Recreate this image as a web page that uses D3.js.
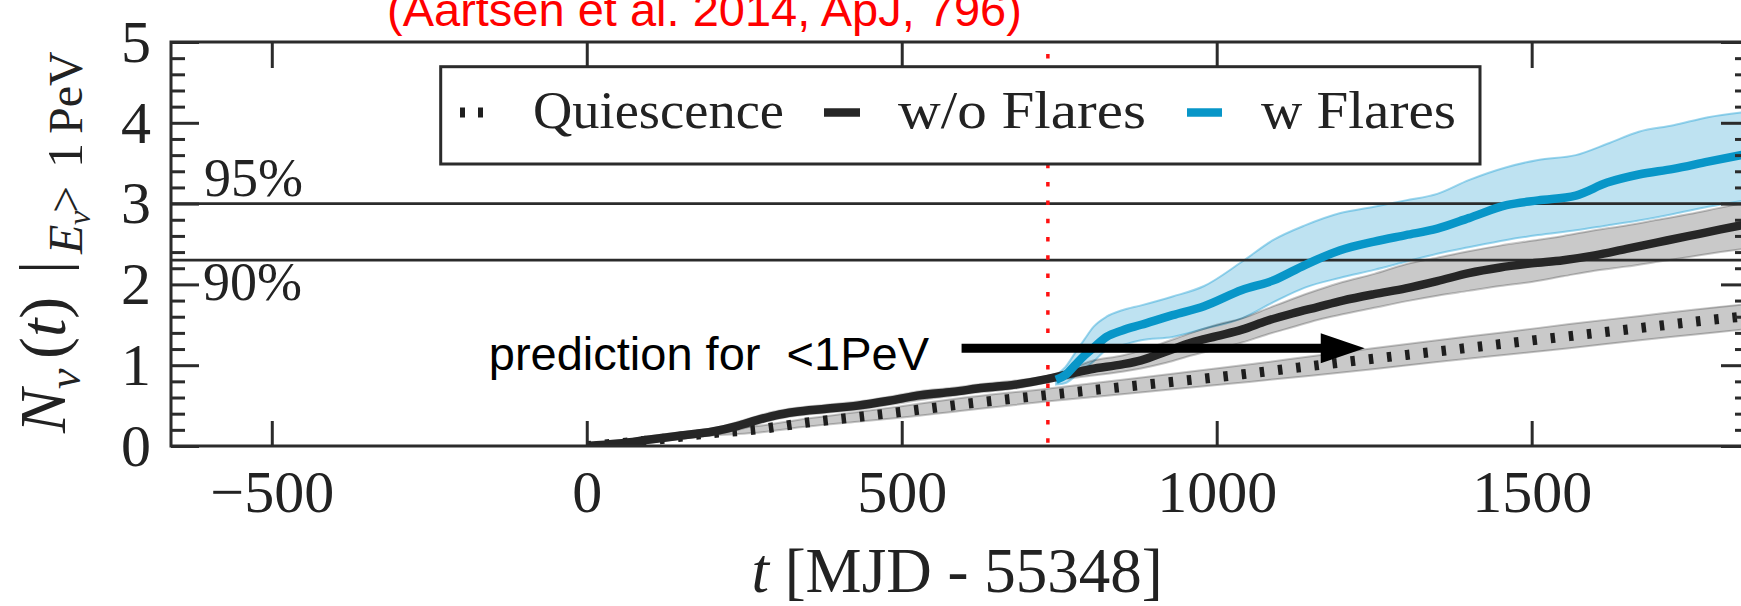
<!DOCTYPE html>
<html>
<head>
<meta charset="utf-8">
<script src="https://cdn.jsdelivr.net/npm/d3@7"></script>
<style>
  html, body { margin: 0; padding: 0; background: #fff; }
  svg { display: block; }
  .serif { font-family: "Liberation Serif", "Times New Roman", serif; }
  .sans  { font-family: "Liberation Sans", Arial, sans-serif; }
</style>
</head>
<body>
<svg id="chart" width="1741" height="606"></svg>
<script>
// ---- data -------------------------------------------------------------
// cumulative expected neutrino counts above 1 PeV versus time (days since MJD 55348)

// quiescent emission only
const quietT  = [0, 100, 200, 264, 350, 430, 497, 600, 730, 850, 1021, 1150, 1248, 1350, 1460, 1560, 1672, 1760, 1845];
const quietV  = [0, 0.07, 0.16, 0.20, 0.29, 0.36, 0.42, 0.52, 0.63, 0.73, 0.87, 0.99, 1.08, 1.17, 1.27, 1.36, 1.46, 1.54, 1.61];
const quietLo = [0, 0.05, 0.13, 0.16, 0.24, 0.30, 0.35, 0.44, 0.55, 0.64, 0.77, 0.87, 0.95, 1.04, 1.13, 1.21, 1.31, 1.38, 1.45];
const quietHi = [0, 0.09, 0.19, 0.24, 0.34, 0.42, 0.49, 0.60, 0.71, 0.82, 0.98, 1.11, 1.21, 1.31, 1.41, 1.51, 1.61, 1.69, 1.76];

// without flares
const noFlareT  = [0, 50, 100, 150, 200, 240, 270, 300, 330, 380, 430, 480, 530, 580, 630, 680, 732,
                   760, 800, 850, 880, 920, 960, 1000, 1040, 1080, 1120, 1160, 1200, 1250, 1300, 1350,
                   1400, 1450, 1500, 1550, 1600, 1650, 1700, 1750, 1800, 1845];
const noFlareV  = [0, 0.03, 0.08, 0.13, 0.18, 0.25, 0.32, 0.38, 0.42, 0.46, 0.50, 0.56, 0.63, 0.67, 0.72, 0.76, 0.83,
                   0.88, 0.95, 1.01, 1.06, 1.17, 1.28, 1.36, 1.44, 1.55, 1.64, 1.72, 1.80, 1.88, 1.95, 2.04,
                   2.14, 2.21, 2.26, 2.30, 2.36, 2.44, 2.52, 2.60, 2.68, 2.75];
const noFlareLo = [0, 0.00, 0.04, 0.09, 0.14, 0.20, 0.27, 0.33, 0.37, 0.41, 0.45, 0.51, 0.57, 0.62, 0.67, 0.71, 0.79,
                   0.83, 0.87, 0.92, 0.96, 1.03, 1.12, 1.20, 1.28, 1.38, 1.47, 1.56, 1.63, 1.71, 1.79, 1.86,
                   1.92, 1.98, 2.03, 2.10, 2.17, 2.22, 2.28, 2.34, 2.40, 2.45];
const noFlareHi = [0, 0.06, 0.12, 0.17, 0.22, 0.30, 0.37, 0.43, 0.47, 0.51, 0.55, 0.61, 0.68, 0.72, 0.77, 0.81, 0.87,
                   0.93, 1.05, 1.12, 1.18, 1.29, 1.40, 1.50, 1.58, 1.70, 1.82, 1.93, 2.03, 2.13, 2.25, 2.33,
                   2.41, 2.48, 2.54, 2.60, 2.67, 2.73, 2.80, 2.87, 2.95, 3.02];

// with flares
const flareT  = [745, 760, 775, 790, 805, 825, 850, 880, 930, 980, 1040, 1090, 1140, 1195, 1250, 1300,
                 1350, 1400, 1460, 1510, 1570, 1620, 1670, 1725, 1780, 1845];
const flareV  = [0.82, 0.88, 1.00, 1.12, 1.22, 1.35, 1.43, 1.50, 1.62, 1.73, 1.93, 2.05, 2.24, 2.42, 2.53, 2.61,
                 2.69, 2.82, 2.98, 3.04, 3.10, 3.26, 3.36, 3.43, 3.52, 3.62];
const flareLo = [0.76, 0.78, 0.86, 0.95, 1.05, 1.19, 1.25, 1.31, 1.35, 1.45, 1.58, 1.78, 1.96, 2.08, 2.18, 2.28,
                 2.38, 2.46, 2.55, 2.61, 2.67, 2.73, 2.79, 2.87, 2.96, 3.05];
const flareHi = [0.88, 0.98, 1.15, 1.32, 1.48, 1.60, 1.68, 1.74, 1.85, 1.98, 2.28, 2.55, 2.73, 2.88, 2.96, 3.04,
                 3.12, 3.29, 3.45, 3.54, 3.60, 3.74, 3.89, 3.97, 4.07, 4.14];

// upper limits and markers
const limitValues = [3.0, 2.3];
const limitLabels = ["95%", "90%"];
const splitTime = 732;                       // red dotted divider
const arrowFrom = [595, 1.21], arrowTo = [1235, 1.21];

// axes
const xDomain = [-660, 1845];
const yDomain = [0, 5];
const xTickValues = [-500, 0, 500, 1000, 1500];
const yTickValues = [0, 1, 2, 3, 4, 5];
const legendLabels = ["Quiescence", "w/o Flares", "w Flares"];

// ---- drawing ----------------------------------------------------------
const svg = d3.select("#chart");
const pL = 171, pR = 1749, pT = 42, pB = 446;
const x = d3.scaleLinear().domain(xDomain).range([pL, pR]);
const y = d3.scaleLinear().domain(yDomain).range([pB, pT]);
const ink = "#2b2b2b";
const blue = "#0896c8";

svg.append("rect").attr("width", 1741).attr("height", 606).attr("fill", "#fff");

svg.append("clipPath").attr("id", "plotclip")
  .append("rect").attr("x", pL).attr("y", pT).attr("width", pR - pL).attr("height", pB - pT);

const plot = svg.append("g").attr("clip-path", "url(#plotclip)");

const zip = (t, a, b, c) => t.map((d, i) => ({t: d, v: a[i], lo: b[i], hi: c[i]}));
const quiet = zip(quietT, quietV, quietLo, quietHi);
const noFlare = zip(noFlareT, noFlareV, noFlareLo, noFlareHi);
const flare = zip(flareT, flareV, flareLo, flareHi);

const band = d3.area().x(d => x(d.t)).y0(d => y(d.lo)).y1(d => y(d.hi)).curve(d3.curveMonotoneX);
const line = d3.line().x(d => x(d.t)).y(d => y(d.v)).curve(d3.curveMonotoneX);

// uncertainty bands
plot.append("path").datum(flare).attr("d", band)
  .attr("fill", "rgba(40,160,210,0.30)").attr("stroke", "rgba(40,165,215,0.45)").attr("stroke-width", 2);
plot.append("path").datum(noFlare).attr("d", band)
  .attr("fill", "rgba(0,0,0,0.21)").attr("stroke", "rgba(0,0,0,0.22)").attr("stroke-width", 2);
plot.append("path").datum(quiet).attr("d", band)
  .attr("fill", "rgba(0,0,0,0.21)").attr("stroke", "rgba(0,0,0,0.22)").attr("stroke-width", 2);

// 90% / 95% limit lines
plot.selectAll(".limit").data(limitValues).enter().append("line")
  .attr("x1", pL).attr("x2", pR)
  .attr("y1", d => y(d)).attr("y2", d => y(d))
  .attr("stroke", ink).attr("stroke-width", 2.6);

// divider between the two periods
plot.append("line")
  .attr("x1", x(splitTime)).attr("x2", x(splitTime))
  .attr("y1", y(5)).attr("y2", y(0))
  .attr("stroke", "#ff1010").attr("stroke-width", 3.5)
  .attr("stroke-dasharray", "4.5,13.8").attr("stroke-dashoffset", -12);

// central curves
plot.append("path").datum(quiet).attr("d", line)
  .attr("fill", "none").attr("stroke", "#1e1e1e").attr("stroke-width", 10)
  .attr("stroke-dasharray", "4.5,13.8");
plot.append("path").datum(noFlare).attr("d", line)
  .attr("fill", "none").attr("stroke", "#262626").attr("stroke-width", 8.5).attr("stroke-linejoin", "round");
plot.append("path").datum(flare).attr("d", line)
  .attr("fill", "none").attr("stroke", blue).attr("stroke-width", 8.5).attr("stroke-linejoin", "round");

// ---- axes -------------------------------------------------------------
function styleAxis(g) {
  g.select(".domain").remove();
  g.selectAll(".tick line").attr("stroke", ink).attr("stroke-width", 3);
  g.selectAll(".tick text").attr("fill", "#222")
    .attr("font-family", '"Liberation Serif", "Times New Roman", serif').attr("font-size", 60);
}
const fmtX = d => d < 0 ? "\u2212" + Math.abs(d) : String(d);
const minorY = d3.range(0, 5.0001, 0.2).filter(v => Math.abs(v - Math.round(v)) > 1e-6);

svg.append("g").attr("transform", `translate(0,${pB})`)
  .call(d3.axisBottom(x).tickValues(xTickValues).tickSize(-25).tickSizeOuter(0).tickPadding(23).tickFormat(fmtX))
  .call(styleAxis);
svg.append("g").attr("transform", `translate(0,${pT})`)
  .call(d3.axisTop(x).tickValues(xTickValues).tickSize(-26).tickSizeOuter(0).tickFormat(""))
  .call(styleAxis);
svg.append("g").attr("transform", `translate(${pL},0)`)
  .call(d3.axisLeft(y).tickValues(yTickValues).tickSize(-28).tickSizeOuter(0).tickPadding(20).tickFormat(d3.format("d")))
  .call(styleAxis);
svg.append("g").attr("transform", `translate(${pL},0)`)
  .call(d3.axisLeft(y).tickValues(minorY).tickSize(-14).tickSizeOuter(0).tickFormat(""))
  .call(styleAxis);
svg.append("g").attr("transform", `translate(${pR},0)`)
  .call(d3.axisRight(y).tickValues(yTickValues).tickSize(-28).tickSizeOuter(0).tickFormat(""))
  .call(styleAxis);
svg.append("g").attr("transform", `translate(${pR},0)`)
  .call(d3.axisRight(y).tickValues(minorY).tickSize(-14).tickSizeOuter(0).tickFormat(""))
  .call(styleAxis);

// frame
svg.append("rect").attr("x", pL).attr("y", pT).attr("width", pR - pL).attr("height", pB - pT)
  .attr("fill", "none").attr("stroke", ink).attr("stroke-width", 3);

// limit labels
svg.append("text").attr("class", "serif").attr("x", 204).attr("y", 196)
  .attr("font-size", 54).attr("fill", "#222").text(limitLabels[0]);
svg.append("text").attr("class", "serif").attr("x", 203).attr("y", 300)
  .attr("font-size", 54).attr("fill", "#222").text(limitLabels[1]);

// x axis title
const xt = svg.append("text").attr("class", "serif").attr("x", 957).attr("y", 592)
  .attr("text-anchor", "middle").attr("font-size", 63).attr("fill", "#222");
xt.append("tspan").attr("font-style", "italic").text("t");
xt.append("tspan").text(" [MJD - 55348]");

// y axis title (rotated; x = -screenY, y = screenX)
const yl = svg.append("text").attr("class", "serif").attr("transform", "rotate(-90)").attr("fill", "#222");
const yParts = [
  {s: "N", x: -433, y: 65, size: 66, it: true},
  {s: "\u03bd", x: -389, y: 80, size: 46, it: true},
  {s: "(", x: -359, y: 65, size: 66},
  {s: "t", size: 66, it: true},
  {s: ")", size: 66},
  {s: "|", x: -274, y: 65, size: 66},
  {s: "E", x: -254, y: 82, size: 48, it: true},
  {s: "\u03bd", x: -225, y: 90, size: 32, it: true},
  {s: ">", x: -213, y: 82, size: 48},
  {s: "1", x: -168, y: 82, size: 50},
  {s: "PeV", x: -134, y: 82, size: 48}
];
yParts.forEach(p => {
  const ts = yl.append("tspan").attr("font-size", p.size).text(p.s);
  if (p.x !== undefined) ts.attr("x", p.x);
  if (p.y !== undefined) ts.attr("y", p.y);
  if (p.it) ts.attr("font-style", "italic");
});

// ---- legend -----------------------------------------------------------
const lg = svg.append("g");
lg.append("rect").attr("x", 440.7).attr("y", 66.7).attr("width", 1039.3).attr("height", 97.3)
  .attr("fill", "#fff").attr("stroke", ink).attr("stroke-width", 3);
const legendY = 112.5;
lg.append("line").attr("x1", 460).attr("x2", 484).attr("y1", legendY).attr("y2", legendY)
  .attr("stroke", "#1e1e1e").attr("stroke-width", 10).attr("stroke-dasharray", "5,13");
lg.append("line").attr("x1", 824).attr("x2", 860).attr("y1", legendY).attr("y2", legendY)
  .attr("stroke", "#262626").attr("stroke-width", 8.5);
lg.append("line").attr("x1", 1187).attr("x2", 1222).attr("y1", legendY).attr("y2", legendY)
  .attr("stroke", blue).attr("stroke-width", 8.5);
const legendX = [533, 898, 1261], legendW = [251, 248, 195];
legendX.forEach((lx, i) => {
  lg.append("text").attr("class", "serif").attr("x", lx).attr("y", 128)
    .attr("font-size", 53).attr("fill", "#222")
    .attr("textLength", legendW[i]).attr("lengthAdjust", "spacingAndGlyphs")
    .text(legendLabels[i]);
});

// ---- annotations ------------------------------------------------------
const ax0 = x(arrowFrom[0]), ax1 = x(arrowTo[0]), ay = y(arrowFrom[1]);
svg.append("line").attr("x1", ax0).attr("x2", ax1 - 40).attr("y1", ay).attr("y2", ay)
  .attr("stroke", "#000").attr("stroke-width", 9);
svg.append("path")
  .attr("d", `M${ax1 - 44},${ay - 15} L${ax1},${ay} L${ax1 - 44},${ay + 15} Z`)
  .attr("fill", "#000");

svg.append("text").attr("class", "sans").attr("x", 929).attr("y", 370)
  .attr("text-anchor", "end").attr("font-size", 47).attr("fill", "#000")
  .style("white-space", "pre").text("prediction for  <1PeV");

svg.append("text").attr("class", "sans").attr("x", 387).attr("y", 26)
  .attr("font-size", 47).attr("fill", "#ff0000")
  .text("(Aartsen et al. 2014, ApJ, 796)");
</script>
</body>
</html>
